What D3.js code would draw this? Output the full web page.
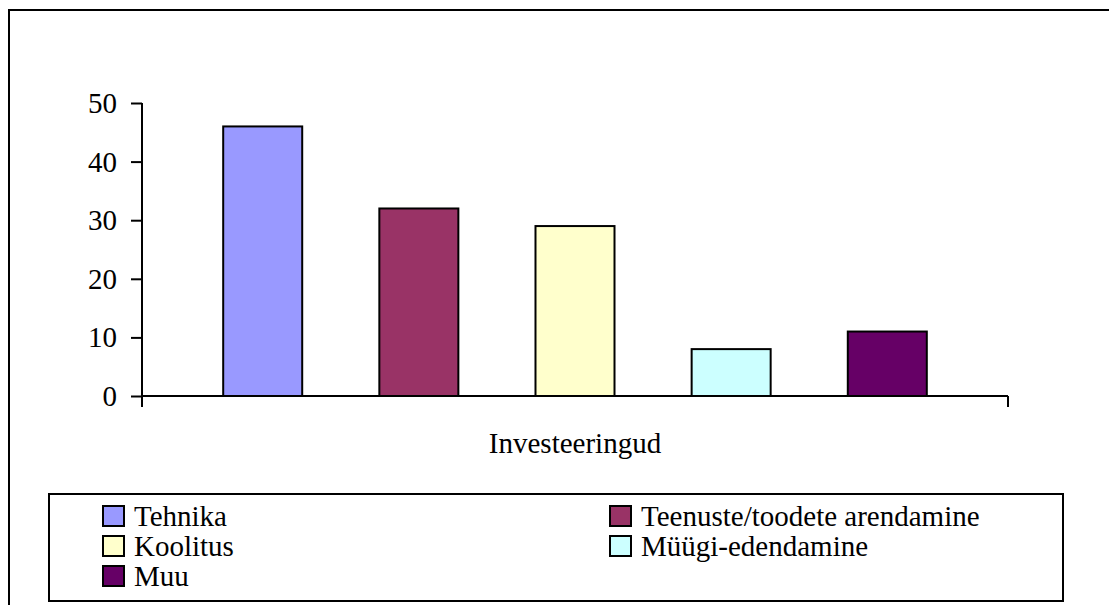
<!DOCTYPE html>
<html>
<head>
<meta charset="utf-8">
<script src="https://cdn.jsdelivr.net/npm/d3@7"></script>
<style>
  html, body { margin: 0; padding: 0; background: #fff; }
  svg { display: block; }
</style>
</head>
<body>
<svg id="chart" width="1109" height="605"></svg>
<script>
// Investment categories and their counts
const seriesNames = ["Tehnika", "Teenuste/toodete arendamine", "Koolitus", "Müügi-edendamine", "Muu"];
const seriesValues = [46, 32, 29, 8, 11];
const seriesColors = ["#9999ff", "#993366", "#ffffcc", "#ccffff", "#660066"];
const yTicks = [0, 10, 20, 30, 40, 50];
const categoryLabel = "Investeeringud";

const svg = d3.select("#chart");
const labelSize = 29;
const labelFont = "Tinos";

const gfx = svg.append("g");
const txt = svg.append("g");

const plot = { left: 142, right: 1008, top: 103, bottom: 396 };
const y = d3.scaleLinear().domain([0, 50]).range([plot.bottom, plot.top]);
const x = d3.scaleBand()
  .domain(seriesNames)
  .range([plot.left, plot.right])
  .paddingInner(0.494)
  .paddingOuter(0.52);

function styleLabel(sel) {
  return sel
    .attr("font-size", labelSize)
    .attr("font-family", labelFont)
    .attr("fill", "#000");
}

// Y tick labels, placed from the axis scale
txt.selectAll("text.ytick")
  .data(yTicks)
  .join("text")
  .attr("class", "ytick")
  .attr("x", plot.left - 25)
  .attr("y", d => y(d) + 10)
  .attr("text-anchor", "end")
  .text(d => String(d))
  .call(styleLabel);

// Category label under the axis
txt.append("text")
  .attr("x", (plot.left + plot.right) / 2)
  .attr("y", 453)
  .attr("text-anchor", "middle")
  .text(categoryLabel)
  .call(styleLabel);

// Legend entries
const colX = [103, 610];
const rowY = [526, 556, 586];
txt.selectAll("text.leg")
  .data(seriesNames)
  .join("text")
  .attr("class", "leg")
  .attr("x", (d, i) => colX[i % 2] + 31)
  .attr("y", (d, i) => rowY[Math.floor(i / 2)])
  .text(d => d)
  .call(styleLabel);

// Outer frame (top and left edges visible)
gfx.append("path")
  .attr("d", "M9,605 V10 H1109")
  .attr("fill", "none")
  .attr("stroke", "#000")
  .attr("stroke-width", 2);

// Bars
gfx.append("g")
  .selectAll("rect")
  .data(seriesNames)
  .join("rect")
  .attr("x", d => x(d))
  .attr("y", (d, i) => y(seriesValues[i]))
  .attr("width", x.bandwidth())
  .attr("height", (d, i) => y(0) - y(seriesValues[i]))
  .attr("fill", (d, i) => seriesColors[i])
  .attr("stroke", "#000")
  .attr("stroke-width", 2);

// Y axis ticks (labels drawn in the text layer)
const yg = gfx.append("g")
  .attr("transform", `translate(${plot.left},0)`)
  .call(d3.axisLeft(y).tickValues(yTicks).tickSize(11).tickFormat(""));
yg.select(".domain").remove();
yg.selectAll(".tick text").remove();
yg.selectAll(".tick line").attr("stroke", "#000").attr("stroke-width", 2);
gfx.append("line")
  .attr("x1", plot.left).attr("x2", plot.left)
  .attr("y1", y(50)).attr("y2", plot.bottom + 11)
  .attr("stroke", "#000").attr("stroke-width", 2);

// X axis baseline with end tick
gfx.append("line")
  .attr("x1", plot.left).attr("x2", plot.right)
  .attr("y1", y(0)).attr("y2", y(0))
  .attr("stroke", "#000").attr("stroke-width", 2);
gfx.append("line")
  .attr("x1", plot.right).attr("x2", plot.right)
  .attr("y1", y(0)).attr("y2", y(0) + 11)
  .attr("stroke", "#000").attr("stroke-width", 2);

// Legend frame and swatches
gfx.append("rect")
  .attr("x", 49).attr("y", 494)
  .attr("width", 1014).attr("height", 107)
  .attr("fill", "#fff")
  .attr("stroke", "#000")
  .attr("stroke-width", 2);
gfx.selectAll("rect.swatch")
  .data(seriesNames)
  .join("rect")
  .attr("class", "swatch")
  .attr("x", (d, i) => colX[i % 2])
  .attr("y", (d, i) => rowY[Math.floor(i / 2)] - 20)
  .attr("width", 21).attr("height", 20)
  .attr("fill", (d, i) => seriesColors[i])
  .attr("stroke", "#000")
  .attr("stroke-width", 2);
</script>
</body>
</html>
